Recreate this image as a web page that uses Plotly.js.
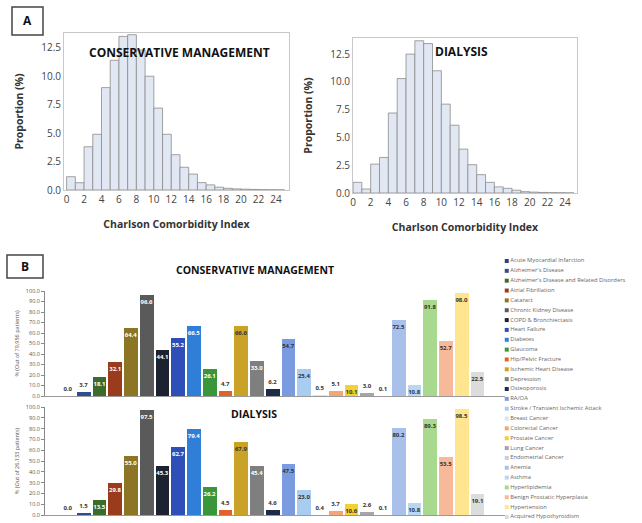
<!DOCTYPE html>
<html><head><meta charset="utf-8">
<script src="https://cdn.plot.ly/plotly-3.0.1.min.js"></script>
<style>html,body{margin:0;padding:0;background:#fff}#chart{width:642px;height:523px}</style>
</head><body><div id="chart"></div>
<script>
// ---------- DATA ----------
const cciBins = [0,1,2,3,4,5,6,7,8,9,10,11,12,13,14,15,16,17,18,19,20,21,22,23,24];
const cciConservative = [1.17,0.64,3.8,4.9,9.0,11.4,13.5,13.65,12.3,10.0,7.2,4.9,3.1,2.0,1.4,0.65,0.45,0.25,0.15,0.1,0.07,0.05,0.03,0.02,0.01];
const cciDialysis = [0.96,0.36,2.6,3.2,7.2,10.3,12.5,13.7,13.45,11.0,8.0,6.1,3.95,2.55,1.65,0.96,0.55,0.42,0.25,0.12,0.08,0.05,0.03,0.02,0.01];

const conditions = ["Acute Myocardial Infarction","Alzheimer's Disease","Alzheimer's Disease and Related Disorders","Atrial Fibrillation","Cataract","Chronic Kidney Disease","COPD & Bronchiectasis","Heart Failure","Diabetes","Glaucoma","Hip/Pelvic Fracture","Ischemic Heart Disease","Depression","Osteoporosis","RA/OA","Stroke / Transient Ischemic Attack","Breast Cancer","Colorectal Cancer","Prostate Cancer","Lung Cancer","Endometrial Cancer","Anemia","Asthma","Hyperlipidemia","Benign Prostatic Hyperplasia","Hypertension","Acquired Hypothyroidism"];
const pctConservative = [0.0,3.7,18.1,32.1,64.4,96.6,44.1,55.2,66.5,26.1,4.7,66.6,33.0,6.2,54.7,25.4,0.5,5.1,10.1,3.0,0.1,72.5,10.8,91.8,52.7,98.0,22.5];
const pctDialysis = [0.0,1.5,13.5,29.8,55.0,97.5,45.3,62.7,79.4,26.2,4.5,67.9,45.4,4.6,47.5,23.0,0.4,3.7,10.6,2.6,0.1,80.2,10.8,89.3,53.5,98.5,19.1];
const conditionColors = ["#3b3b78","#2d4e8e","#3d6b2a","#9a3b1c","#8c7626","#5a5a5a","#1c2230","#2e4fb8","#2f7ed8","#3a963a","#e0622a","#c9a227","#7f7f7f","#1e2a48","#7b9be0","#a9cdf0","#dde3f0","#f2a577","#f2d230","#a6a6a6","#c5cde0","#a9c0ea","#b7d7f2","#a9d98e","#f6b99a","#ffe58f","#dcdcdc"];

// ---------- HELPERS ----------
const W = 642, H = 523;
const fx = (a, b) => [a / W, b / W];
const fy = (t, b) => [1 - b / H, 1 - t / H];
function lum(hex){const n=parseInt(hex.slice(1),16);const r=(n>>16)&255,g=(n>>8)&255,b=n&255;return (0.299*r+0.587*g+0.114*b)/255;}
const insideColors = conditionColors.map(c => lum(c) < 0.5 ? '#ffffff' : '#333333');
const pos = v => v.map(x => x >= 8 ? 'inside' : 'outside');
const FONT = 'Open Sans, Arial, sans-serif';

const histMarker = {color:'#e1e7f3', line:{color:'#8c8c8c', width:0.8}};

function barTrace(vals, xa, ya){
  return {type:'bar', x:conditions, y:vals, xaxis:xa, yaxis:ya, width:0.88,
    marker:{color:conditionColors},
    text:vals.map(v=>v.toFixed(1)), textposition:pos(vals), insidetextanchor:'end',
    textangle:0, constraintext:'none', cliponaxis:false,
    insidetextfont:{size:6, color:insideColors, family:FONT, weight:'bold'},
    outsidetextfont:{size:6, color:'#333', family:FONT, weight:'bold'},
    hoverinfo:'x+y', showlegend:false};
}

const traces = [
  {type:'bar', x:cciBins, y:cciConservative, width:1, offset:0, xaxis:'x', yaxis:'y', marker:histMarker, showlegend:false},
  {type:'bar', x:cciBins, y:cciDialysis, width:1, offset:0, xaxis:'x2', yaxis:'y2', marker:histMarker, showlegend:false},
  barTrace(pctConservative, 'x3', 'y3'),
  barTrace(pctDialysis, 'x4', 'y4'),
  {type:'scatter', mode:'markers+text', x:conditions.map(()=>0), y:conditions.map((_, i)=>i),
   xaxis:'x5', yaxis:'y5', text:conditions, textposition:'middle right', cliponaxis:false,
   marker:{symbol:'square', size:4, color:conditionColors},
   textfont:{size:5.8, color:'#666', family:FONT}, showlegend:false, hoverinfo:'text'}
];

const histX = {showline:true, mirror:true, linecolor:'#c8c8c8', linewidth:1, ticks:'', showgrid:false, zeroline:false,
  tick0:0, dtick:2, tickfont:{size:10, color:'#444', family:FONT},
  title:{text:'Charlson Comorbidity Index', font:{size:10.5, color:'#333', family:FONT, weight:'bold'}, standoff:15}};
const histY = {showline:true, mirror:true, linecolor:'#c8c8c8', linewidth:1, ticks:'', showgrid:false, zeroline:false,
  tick0:0, dtick:2.5, tickformat:'.1f', tickfont:{size:10, color:'#444', family:FONT},
  title:{text:'Proportion (%)', font:{size:10.5, color:'#333', family:FONT, weight:'bold'}, standoff:15}};
const barX = {type:'category', showline:true, linecolor:'#999', linewidth:1, showticklabels:false, ticks:'', showgrid:false, zeroline:false, range:[-1.46, 27.75]};
const barY = (t) => ({showline:true, linecolor:'#888', linewidth:1, ticks:'outside', ticklen:3, tickcolor:'#888', showgrid:false, zeroline:false,
  range:[0,100], dtick:10, tickformat:'.1f', tickfont:{size:5.5, color:'#555', family:FONT},
  title:{text:t, font:{size:5.5, color:'#555', family:FONT}, standoff:5}});

const ann = (t, x, y, size) => ({text:t, xref:'paper', yref:'paper', x:x/W, y:1-y/H, xanchor:'center', yanchor:'middle', showarrow:false, font:{size:size, color:'#111', family:FONT}});

const layout = {
  width:W, height:H, autosize:false, margin:{l:0,r:0,t:0,b:0},
  paper_bgcolor:'#fff', plot_bgcolor:'rgba(0,0,0,0)', bargap:0,
  font:{family:FONT},
  xaxis: Object.assign({}, histX, {domain:fx(64,289), range:[-0.3,25.5], anchor:'y'}),
  yaxis: Object.assign({}, histY, {domain:fy(33,190), range:[0,13.8], anchor:'x'}),
  xaxis2: Object.assign({}, histX, {domain:fx(353,577), range:[0,25.35], anchor:'y2'}),
  yaxis2: Object.assign({}, histY, {domain:fy(38,193), range:[0,13.95], anchor:'x2'}),
  xaxis3: Object.assign({}, barX, {domain:fx(45,505), anchor:'y3'}),
  yaxis3: Object.assign({}, barY('% (Out of 79,956 patients)'), {domain:fy(291,396), anchor:'x3'}),
  xaxis4: Object.assign({}, barX, {domain:fx(45,505), anchor:'y4'}),
  yaxis4: Object.assign({}, barY('% (Out of 26,133 patients)'), {domain:fy(407,515), anchor:'x4'}),
  xaxis5: {domain:fx(500,642), range:[-0.5,10], visible:false, anchor:'y5'},
  yaxis5: {domain:fy(255,523), range:[26.61,-0.61], visible:false, anchor:'x5'},
  shapes:[
    {type:'rect', xref:'paper', yref:'paper', x0:12/W, x1:43/W, y0:1-35/H, y1:1-7/H, line:{color:'#444', width:1.5}},
    {type:'rect', xref:'paper', yref:'paper', x0:7/W, x1:43/W, y0:1-278/H, y1:1-255/H, line:{color:'#444', width:1.5}}
  ],
  annotations:[
    ann('<b>A</b>', 27.5, 21, 12),
    ann('<b>B</b>', 25, 266.5, 12),
    ann('<b>CONSERVATIVE MANAGEMENT</b>', 180, 52, 12),
    ann('<b>DIALYSIS</b>', 461, 51, 12),
    ann('<b>CONSERVATIVE MANAGEMENT</b>', 255, 270, 10.5),
    ann('<b>DIALYSIS</b>', 254, 414, 10.5)
  ]
};

Plotly.newPlot('chart', traces, layout, {displayModeBar:false, staticPlot:true});
</script>
</body></html>
